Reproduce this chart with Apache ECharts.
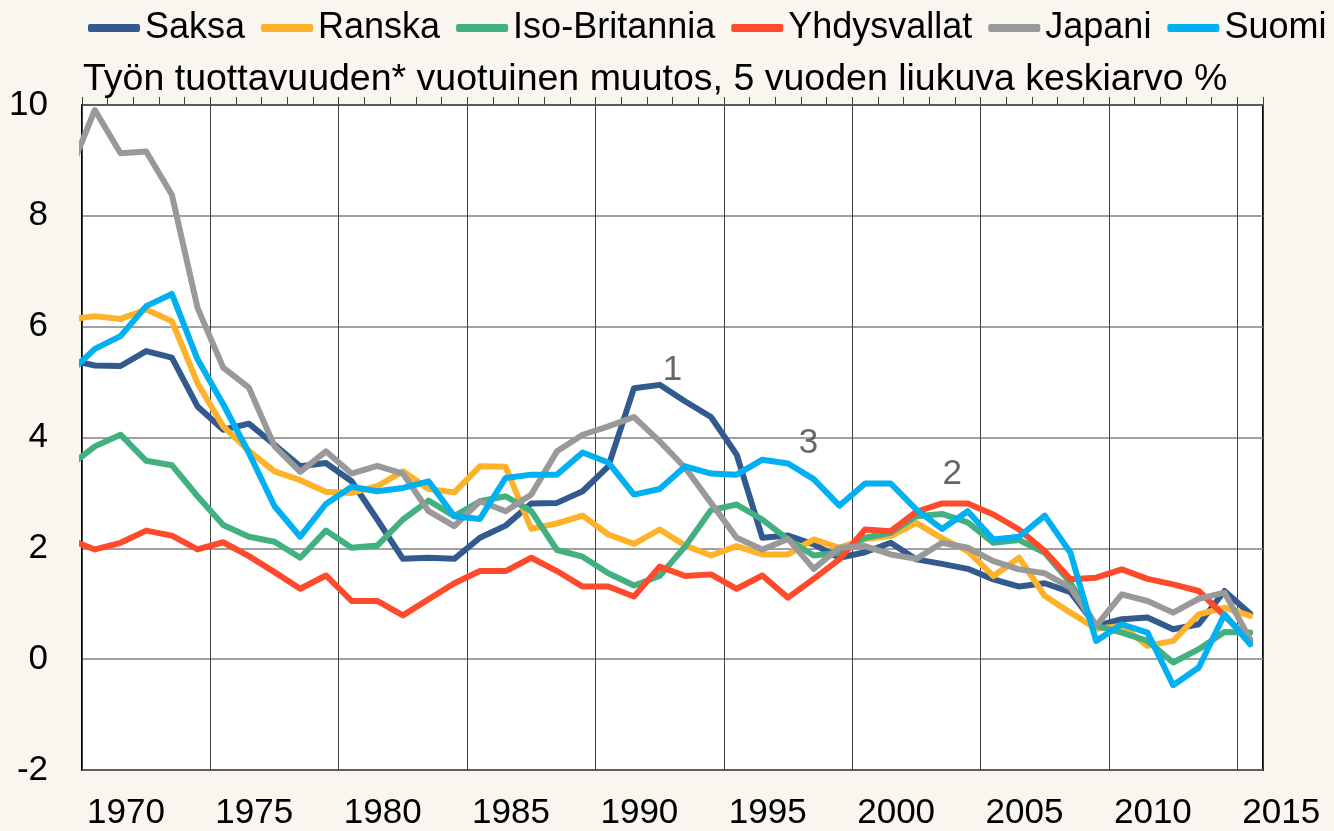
<!DOCTYPE html>
<html lang="fi">
<head>
  <meta charset="UTF-8">
  <title>Työn tuottavuus</title>
  <script src="https://cdn.jsdelivr.net/npm/echarts@6/dist/echarts.min.js"></script>
  <style>
    html, body { margin: 0; padding: 0; background: #f9f5ef; }
    #chart { width: 1334px; height: 831px; }
  </style>
</head>
<body>
  <div id="chart"></div>
  <script>
    // vuodet 1969-2015, pisteet piirretään vuoden keskelle
    const years = [];
    for (let y = 1969; y <= 2015; y++) years.push(y);

    const saksa = [5.40, 5.30, 5.29, 5.56, 5.44, 4.56, 4.14, 4.25, 3.87, 3.48, 3.54, 3.21, 2.52, 1.81, 1.83, 1.81,
      2.19, 2.41, 2.81, 2.82, 3.03, 3.48, 4.89, 4.95, 4.65, 4.37, 3.69, 2.19, 2.23, 2.07, 1.83, 1.93,
      2.10, 1.80, 1.72, 1.63, 1.44, 1.31, 1.37, 1.21, 0.60, 0.72, 0.75, 0.54, 0.63, 1.23, 0.82];
    const ranska = [6.13, 6.19, 6.14, 6.31, 6.10, 4.98, 4.20, 3.76, 3.39, 3.23, 3.02, 3.00, 3.12, 3.39, 3.07, 3.01,
      3.48, 3.47, 2.35, 2.45, 2.59, 2.25, 2.08, 2.34, 2.05, 1.87, 2.04, 1.89, 1.89, 2.16, 2.01, 2.17,
      2.22, 2.46, 2.18, 1.95, 1.50, 1.83, 1.14, 0.84, 0.55, 0.60, 0.24, 0.33, 0.81, 0.93, 0.78];
    const britannia = [3.48, 3.84, 4.05, 3.58, 3.50, 2.94, 2.42, 2.21, 2.12, 1.83, 2.32, 2.01, 2.05, 2.52, 2.86, 2.58,
      2.85, 2.94, 2.67, 1.97, 1.85, 1.55, 1.33, 1.50, 2.04, 2.69, 2.79, 2.52, 2.16, 1.87, 1.92, 2.19,
      2.28, 2.58, 2.62, 2.47, 2.10, 2.15, 1.92, 1.38, 0.60, 0.48, 0.33, -0.06, 0.18, 0.49, 0.48];
    const yhdysvallat = [2.16, 1.98, 2.10, 2.32, 2.23, 1.98, 2.11, 1.86, 1.57, 1.27, 1.51, 1.05, 1.05, 0.79, 1.08, 1.37,
      1.59, 1.59, 1.83, 1.59, 1.31, 1.31, 1.13, 1.67, 1.50, 1.53, 1.27, 1.51, 1.11, 1.45, 1.80, 2.34,
      2.31, 2.66, 2.81, 2.81, 2.61, 2.34, 1.95, 1.44, 1.47, 1.62, 1.45, 1.35, 1.23, 0.78, 0.33];
    const japani = [8.77, 9.91, 9.13, 9.16, 8.38, 6.34, 5.26, 4.90, 3.84, 3.38, 3.75, 3.35, 3.49, 3.35, 2.67, 2.40,
      2.85, 2.67, 2.97, 3.75, 4.05, 4.20, 4.37, 3.93, 3.45, 2.82, 2.19, 1.98, 2.17, 1.63, 2.01, 2.04,
      1.89, 1.81, 2.10, 2.01, 1.77, 1.62, 1.55, 1.29, 0.60, 1.17, 1.05, 0.84, 1.09, 1.20, 0.36];
    const suomi = [5.16, 5.60, 5.83, 6.37, 6.59, 5.41, 4.60, 3.72, 2.76, 2.21, 2.80, 3.11, 3.03, 3.09, 3.21, 2.58,
      2.53, 3.27, 3.33, 3.33, 3.73, 3.55, 2.97, 3.07, 3.48, 3.35, 3.33, 3.60, 3.53, 3.25, 2.77, 3.17,
      3.17, 2.70, 2.35, 2.67, 2.16, 2.21, 2.59, 1.92, 0.33, 0.63, 0.48, -0.47, -0.15, 0.81, 0.27];

    const names = ['Saksa', 'Ranska', 'Iso-Britannia', 'Yhdysvallat', 'Japani', 'Suomi'];
    const colors = ['#335a8e', '#fdb22a', '#43b07f', '#ff4b2b', '#999999', '#00b0f0'];
    const values = [saksa, ranska, britannia, yhdysvallat, japani, suomi];

    // numeroidut merkinnät: [vuosi, arvo, teksti]
    const notes = [[1993.0, 5.22, '1'], [2003.9, 3.33, '2'], [1998.3, 3.9, '3']];

    const font = 'Liberation Sans, Arial, sans-serif';

    const series = names.map((name, i) => ({
      name: name,
      type: 'line',
      data: years.map((y, j) => [y + 0.5, values[i][j]]),
      showSymbol: false,
      symbol: 'none',
      color: colors[i],
      lineStyle: { width: 6, color: colors[i], cap: 'round', join: 'round' },
      animation: false
    }));
    series.push({
      name: 'merkinnät',
      type: 'scatter',
      data: notes.map(n => ({ value: [n[0], n[1]], name: n[2] })),
      symbolSize: 1,
      itemStyle: { color: 'rgba(0,0,0,0)' },
      label: {
        show: true, position: 'inside', formatter: '{b}',
        fontSize: 35, color: '#404040', fontFamily: font
      },
      silent: true,
      animation: false
    });

    const chart = echarts.init(document.getElementById('chart'));
    chart.setOption({
      backgroundColor: '#f9f5ef',
      textStyle: { fontFamily: font },
      title: {
        text: 'Työn tuottavuuden* vuotuinen muutos, 5 vuoden liukuva keskiarvo %',
        left: 83, top: 61, padding: 0,
        textStyle: { fontSize: 37.5, fontWeight: 'normal', color: '#000', fontFamily: font }
      },
      legend: {
        data: names,
        left: 88, top: 10, padding: 0,
        icon: 'roundRect',
        itemWidth: 52, itemHeight: 8, itemGap: 16,
        textStyle: { fontSize: 36, color: '#000', fontFamily: font }
      },
      grid: {
        left: 82, right: 71, top: 105, bottom: 60,
        show: true, backgroundColor: '#ffffff', borderColor: '#000', borderWidth: 2
      },
      xAxis: [{
        type: 'value', min: 1970, max: 2016, interval: 5, position: 'bottom',
        axisLine: { show: false },
        axisTick: { show: false },
        axisLabel: {
          fontSize: 35, color: '#000', align: 'left', margin: 26, padding: [0, 0, 0, 5],
          formatter: v => (v % 5 === 0 ? String(v) : '')
        },
        splitLine: { show: true, lineStyle: { color: '#404040', width: 1 } }
      }, {
        type: 'value', min: 1970, max: 2016, interval: 1, position: 'top',
        axisLine: { show: true, onZero: true, lineStyle: { color: '#595959', width: 1.5 } },
        axisTick: { show: true, length: 8, lineStyle: { color: '#404040', width: 1 } },
        axisLabel: { show: false },
        splitLine: { show: false }
      }],
      yAxis: {
        type: 'value', min: -2, max: 10, interval: 2,
        axisLine: { show: false },
        axisTick: { show: false },
        axisLabel: { fontSize: 35, color: '#000', margin: 34 },
        splitLine: { show: true, lineStyle: { color: '#808080', width: 1.5 } }
      },
      series: series
    });
  </script>
</body>
</html>
